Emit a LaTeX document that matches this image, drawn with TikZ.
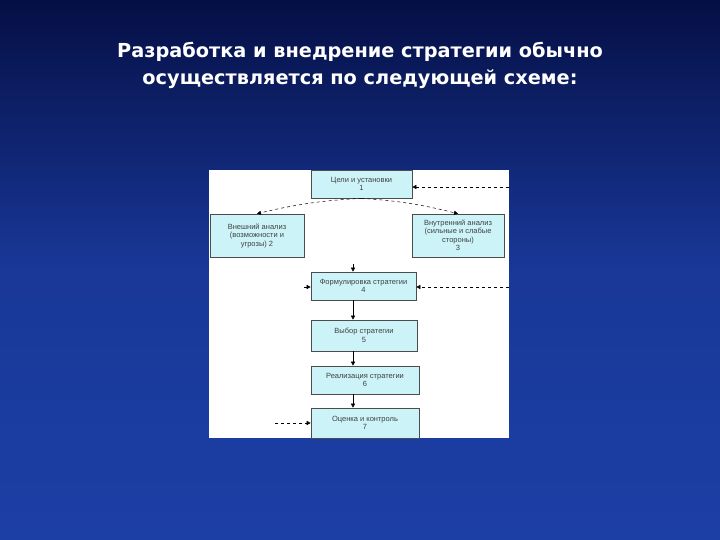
\documentclass[tikz,border=0pt]{standalone}
\usepackage{fontspec}
\setmainfont{Liberation Sans}
\newfontfamily\titlefont{DejaVu Sans}
\usetikzlibrary{arrows.meta}
\definecolor{bgtop}{HTML}{050F45}
\definecolor{bgbot}{HTML}{1C3FA6}
\definecolor{boxfill}{HTML}{CCF4F8}
\begin{document}
\begin{tikzpicture}[x=1pt,y=-1pt,
  blk/.style={draw=black!70,fill=boxfill,line width=0.6pt,inner sep=0pt,align=center,font=\fontsize{7.5}{8.5}\selectfont,text=black!75},
  dsh/.style={dashed,line width=0.5pt,-{Triangle[length=4pt,width=4pt]}},
  sol/.style={line width=0.5pt,-{Triangle[length=4pt,width=4pt]}}]
\shade[top color=bgtop,bottom color=bgbot,middle color=bgbot!85!bgtop] (0,0) rectangle (720,540);
\useasboundingbox (0,0) rectangle (720,540);
\node[text=white,font=\titlefont\bfseries\fontsize{19.3}{27}\selectfont,align=center] (title) at (360,65)
  {Разработка и внедрение стратегии обычно\\осуществляется по следующей схеме:};
\fill[white] (209,170) rectangle (509,438);
\node[blk,minimum width=101pt,minimum height=28pt] (b1) at (361.5,184) {Цели и установки\\1};
\node[blk,minimum width=94pt,minimum height=43pt] (b2) at (257,235.5) {Внешний анализ\\(возможности и\\угрозы) 2};
\node[blk,minimum width=92pt,minimum height=43pt] (b3) at (458,235.5) {Внутренний анализ\\(сильные и слабые\\стороны)\\3};
\node[blk,minimum width=105pt,minimum height=28pt] (b4) at (363.5,286) {Формулировка стратегии\\4};
\node[blk,minimum width=106pt,minimum height=31pt] (b5) at (364,335.5) {Выбор стратегии\\5};
\node[blk,minimum width=108pt,minimum height=28pt] (b6) at (365,380) {Реализация стратегии\\6};
\node[blk,minimum width=108pt,minimum height=30pt] (b7) at (365,423) {Оценка и контроль\\7};
\coordinate (r1) at (509,187);
\coordinate (r4) at (509,287);
\coordinate (l4) at (304,287);
\coordinate (t4) at (353,264);
\coordinate (l7) at (275,423);
\draw[dsh] (b1.south) to[bend right=5] (b2.north);
\draw[dsh] (r1) -- (b1.east |- r1);
\draw[dsh] (b1.south) to[bend left=5] (b3.north);
\draw[sol] (t4) -- (t4 |- b4.north);
\draw[sol] (l4) -- (b4.west |- l4);
\draw[dsh] (r4) -- (b4.east |- r4);
\draw[sol] (b4.south -| t4) -- (t4 |- b5.north);
\draw[sol] (b5.south -| t4) -- (t4 |- b6.north);
\draw[sol] (b6.south -| t4) -- (t4 |- b7.north);
\draw[dsh] (l7) -- (b7.west |- l7);
\end{tikzpicture}
\end{document}
